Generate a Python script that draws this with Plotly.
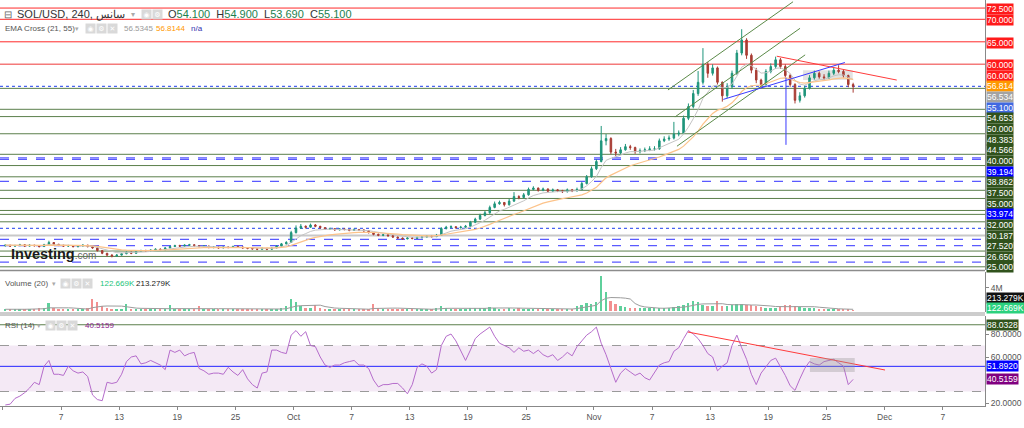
import pandas as pd
import plotly.graph_objects as go

FONT = "Liberation Sans, Arial, sans-serif"
START = pd.Timestamp("2021-09-01")

# ---------------- data (12h candles) ----------------
first_open = 19.7
close = [
    19.8, 19.6, 19.7, 19.9, 19.6, 19.8, 19.7, 19.5, 19.9, 20.4,
    20.0, 19.8, 19.6, 19.7, 19.5, 19.6, 19.8, 19.5, 19.2, 18.6,
    18.0, 17.6, 17.4, 17.6, 17.9, 18.2, 18.0, 18.4, 18.6, 18.5,
    18.7, 18.9, 18.8, 19.2, 19.5, 19.7, 19.6, 19.8, 19.9, 19.7,
    19.5, 19.6, 19.3, 19.4, 19.2, 19.4, 19.3, 19.5, 19.4, 19.2,
    19.1, 19.0, 18.9, 19.1, 18.9, 19.2, 19.6, 20.1, 20.4, 22.6,
    23.6, 24.0, 23.8, 24.3, 24.0, 23.7, 23.4, 23.5, 23.2, 23.4,
    23.3, 23.1, 23.3, 23.2, 23.0, 22.6, 22.2, 22.0, 22.1, 21.9,
    21.6, 21.4, 21.2, 21.4, 21.3, 21.5, 21.6, 21.8, 21.7, 22.0,
    23.5, 23.8, 23.9, 23.7, 23.8, 24.0, 24.9, 25.6, 26.4, 27.0,
    28.2, 29.0, 29.3, 28.8, 29.6, 30.6, 30.4, 31.0, 32.2, 32.5,
    32.0, 32.3, 31.8, 32.1, 31.9, 31.7, 32.1, 31.9, 32.2, 33.5,
    35.0, 36.8, 38.4, 43.0, 43.5, 40.5, 40.3, 41.0, 41.7, 41.5,
    40.6, 40.8, 41.0, 41.2, 41.2, 43.0, 43.4, 43.6, 44.5, 44.7,
    48.0, 50.6, 53.5, 56.0, 60.0, 58.0, 59.2, 56.0, 53.0, 55.0,
    58.0, 62.5, 65.4, 62.0, 58.7, 56.5, 55.5, 58.4, 59.5, 61.0,
    59.5, 57.5, 55.5, 52.0, 53.0, 54.7, 57.0, 58.0, 57.2, 57.0,
    58.0, 58.7, 58.4, 57.5, 55.5, 55.1]
high = [
    20.0, 19.9, 19.9, 20.1, 20.0, 20.0, 19.9, 19.8, 20.1, 20.8,
    20.5, 20.1, 19.9, 19.9, 19.8, 19.8, 20.0, 19.9, 19.6, 19.3,
    18.7, 18.1, 17.8, 17.8, 18.1, 18.4, 18.4, 18.6, 18.8, 18.8,
    18.9, 19.1, 19.1, 19.4, 19.7, 19.9, 19.9, 20.0, 20.1, 20.0,
    19.8, 19.8, 19.7, 19.6, 19.5, 19.6, 19.5, 19.7, 19.7, 19.5,
    19.3, 19.2, 19.1, 19.3, 19.2, 19.4, 19.8, 20.3, 20.7, 23.0,
    24.2, 24.5, 24.2, 24.6, 24.5, 24.1, 23.8, 23.7, 23.6, 23.6,
    23.5, 23.4, 23.5, 23.4, 23.3, 23.1, 22.7, 22.4, 22.3, 22.2,
    22.0, 21.7, 21.5, 21.6, 21.6, 21.7, 21.8, 22.0, 22.0, 22.3,
    23.8, 24.1, 24.2, 24.0, 24.1, 24.3, 25.2, 25.9, 26.8, 27.4,
    28.6, 29.5, 29.7, 29.4, 30.1, 31.6, 30.9, 31.4, 32.6, 32.9,
    32.6, 32.6, 32.4, 32.4, 32.3, 32.1, 32.4, 32.3, 32.6, 33.9,
    35.4, 37.3, 38.9, 46.3, 44.5, 43.8, 41.2, 41.6, 42.3, 42.1,
    41.7, 41.3, 41.5, 41.8, 41.8, 43.5, 44.0, 44.2, 47.2, 45.3,
    48.6, 51.3, 54.3, 58.5, 63.6, 60.5, 60.0, 59.5, 56.2, 55.8,
    58.6, 63.2, 67.8, 65.8, 62.4, 59.2, 56.8, 58.9, 60.2, 61.7,
    61.4, 60.0, 57.9, 55.8, 53.8, 55.3, 57.6, 58.6, 58.4, 57.8,
    58.6, 59.2, 59.8, 58.8, 57.7, 55.9]
low = [
    19.5, 19.4, 19.4, 19.6, 19.4, 19.5, 19.5, 19.3, 19.4, 19.8,
    19.8, 19.6, 19.4, 19.4, 19.3, 19.3, 19.5, 19.3, 19.0, 18.4,
    17.8, 17.3, 17.1, 17.2, 17.5, 17.8, 17.8, 17.9, 18.3, 18.3,
    18.4, 18.6, 18.6, 18.7, 19.1, 19.4, 19.4, 19.5, 19.7, 19.5,
    19.3, 19.3, 19.1, 19.1, 19.0, 19.1, 19.1, 19.2, 19.2, 19.0,
    18.9, 18.8, 18.7, 18.8, 18.7, 18.8, 19.1, 19.5, 20.0, 20.3,
    22.4, 23.4, 23.5, 23.7, 23.8, 23.5, 23.2, 23.2, 23.0, 23.1,
    23.1, 22.9, 23.0, 23.0, 22.8, 22.4, 22.0, 21.8, 21.8, 21.7,
    21.4, 21.2, 21.0, 21.1, 21.1, 21.2, 21.3, 21.5, 21.5, 21.6,
    21.9, 23.3, 23.6, 23.5, 23.5, 23.7, 23.9, 24.7, 25.4, 26.2,
    26.8, 28.0, 28.8, 28.4, 28.6, 29.4, 30.0, 30.2, 30.8, 32.0,
    31.7, 31.8, 31.5, 31.6, 31.6, 31.4, 31.5, 31.6, 31.7, 32.0,
    33.3, 34.8, 36.5, 38.2, 42.0, 40.0, 39.6, 40.0, 40.8, 41.0,
    40.1, 40.2, 40.5, 40.7, 40.8, 41.0, 42.7, 43.0, 43.3, 44.0,
    44.5, 47.6, 50.2, 53.0, 55.5, 57.0, 57.5, 55.5, 51.7, 52.5,
    54.6, 57.6, 62.0, 61.2, 58.0, 55.8, 54.7, 55.2, 58.0, 59.0,
    59.0, 57.0, 55.0, 51.3, 51.5, 52.6, 54.4, 56.6, 56.8, 56.5,
    56.8, 57.6, 58.0, 57.0, 54.9, 53.7]
volume_m = [
    0.3, 0.25, 0.3, 0.35, 0.3, 0.4, 0.3, 0.5, 0.6, 1.4,
    0.5, 0.3, 0.3, 0.25, 0.3, 0.3, 0.4, 0.5, 2.0, 1.5,
    0.8, 0.6, 0.4, 0.35, 0.3, 1.2, 0.4, 0.3, 0.3, 0.25,
    0.3, 0.3, 0.35, 0.3, 1.0, 0.4, 0.3, 0.3, 0.35, 0.3,
    0.9, 0.4, 0.3, 0.25, 0.3, 0.3, 0.25, 0.3, 0.3, 0.3,
    0.3, 0.4, 0.3, 0.3, 0.25, 0.3, 0.35, 0.5, 0.8, 2.1,
    1.6, 0.8, 0.6, 0.5, 1.0, 0.5, 0.4, 0.3, 0.3, 0.35,
    0.3, 0.3, 0.25, 0.3, 0.3, 0.4, 1.2, 0.6, 0.4, 0.3,
    0.3, 0.3, 0.25, 0.3, 0.3, 0.3, 0.4, 0.3, 0.3, 0.5,
    0.9, 0.5, 0.4, 0.3, 0.3, 0.4, 0.6, 0.5, 0.5, 0.6,
    0.7, 0.5, 0.4, 0.4, 0.6, 0.4, 0.5, 0.4, 0.4, 0.35,
    0.35, 0.35, 0.3, 0.35, 0.35, 0.35, 0.4, 0.35, 0.9, 1.1,
    1.4, 1.2, 1.6, 6.0, 3.3, 1.8, 1.3, 0.9, 0.7, 0.6,
    0.5, 0.5, 0.45, 0.5, 0.45, 0.45, 0.5, 0.6, 0.7, 0.9,
    1.1, 1.4, 1.8, 1.6, 1.1, 0.9, 0.8, 1.8, 0.9, 0.8,
    1.0, 1.3, 1.2, 1.0, 1.1, 0.9, 0.7, 0.6, 0.6, 0.55,
    0.7, 1.0, 1.1, 0.8, 0.7, 0.6, 0.5, 0.5, 0.4, 0.4,
    0.3, 0.3, 0.25, 0.3, 0.4, 0.12]
rsi = [
    18.3, 19, 24, 26, 29, 33, 38, 36, 52, 57,
    45, 45, 44, 52, 48, 46, 47, 43, 27, 23,
    22, 38, 37, 38, 45, 56, 60, 61, 54, 55,
    57, 55, 53, 49, 66, 64, 66, 61, 63, 64,
    50, 48, 45, 46, 46, 45, 51, 47, 44, 49,
    41, 36, 33, 46, 47, 66, 66, 64, 63, 79,
    83, 78, 82, 70, 69, 60, 53, 51, 53, 53,
    55, 56, 57, 53, 53, 50, 40, 34, 36, 36,
    37, 37, 33, 28, 36, 51, 54, 52, 46, 49,
    70, 78, 80, 74, 65, 57, 66, 76, 80, 83,
    86, 78, 72, 70, 68, 64, 68, 65, 66, 63,
    66, 62, 60, 62, 57, 60, 64, 61, 69, 74,
    79, 82, 86, 72, 62, 50, 38, 46, 50, 47,
    44, 46, 42, 40, 47, 53, 55, 56, 65, 68,
    76, 83, 80, 76, 70, 63, 60, 48, 52, 55,
    70, 79, 68, 58, 45, 36, 46, 52, 57, 59,
    52, 44, 35, 31, 41, 50, 56, 54, 53, 56,
    57, 58, 55, 52, 36, 40.5159]

tick_dates = ["2021-09-01", "2021-09-07", "2021-09-13", "2021-09-19", "2021-09-25",
              "2021-10-01", "2021-10-07", "2021-10-13", "2021-10-19", "2021-10-25",
              "2021-11-01", "2021-11-07", "2021-11-13", "2021-11-19", "2021-11-25",
              "2021-12-01", "2021-12-07"]
tick_text = ["Sep", "7", "13", "19", "25", "Oct", "7", "13", "19", "25",
             "Nov", "7", "13", "19", "25", "Dec", "7"]

# horizontal drawings (price levels)
red_levels = [72.5, 70.0, 65.0]
pink_levels = [60.0]
green_levels = [54.653, 50.0, 48.383, 44.566, 40.0, 37.5, 35.0, 32.0, 30.187,
                27.52, 26.65, 25.0, 18.5, 17.3, 15.0]
blue_dash_levels = [39.194, 38.862, 33.974, 21.1, 19.7, 16.05]
blue_dot_levels = [55.1, 23.55]
gray_levels = [21.95]

# right-hand price labels: value, background
price_labels = [(72.5, "#ff1a1a"), (70.0, "#ff1a1a"), (65.0, "#ff1a1a"),
                (60.0, "#ff1a1a"), (60.0, "#ff1a1a"), (56.814, "#ff9800"),
                (56.534, "#a3a3a3"), (55.1, "#4169e1"), (54.653, "#30521c"),
                (50.0, "#30521c"), (48.383, "#30521c"), (44.566, "#30521c"),
                (40.0, "#30521c"), (39.194, "#0000ff"), (38.862, "#30521c"),
                (37.5, "#30521c"), (35.0, "#30521c"), (33.974, "#0000ff"),
                (32.0, "#30521c"), (30.187, "#30521c"), (27.52, "#30521c"),
                (26.65, "#30521c"), (25.0, "#30521c")]

# trend-line drawings: (start date, price), (end date, price)
channel_lines = [(("2021-11-08 15:20", 54.3), ("2021-11-21 13:10", 73.9)),
                 (("2021-11-09 08:40", 48.3), ("2021-11-22 06:30", 68.0)),
                 (("2021-11-09 13:40", 41.8), ("2021-11-22 19:10", 62.1))]
red_trend = (("2021-11-19 20:50", 61.8), ("2021-12-02 06:00", 56.5))
blue_trend = (("2021-11-14 08:25", 52.2), ("2021-11-26 21:35", 60.4))
blue_vertical = ("2021-11-20 19:40", 42.1, 57.0)
price_box = ("2021-11-22 14:00", "2021-11-27 17:00", 56.5, 58.7)
rsi_red_trend = (("2021-11-10 17:00", 81.7), ("2021-12-01 01:00", 48.7))
rsi_box = ("2021-11-23 07:00", "2021-11-27 22:00", 47.0, 59.1)
rsi_green_level = 88.0328
rsi_blue_level = 51.892

# ---------------- geometry ----------------
W, H = 1024, 428
ML, MR, MT, MB = 0, 39, 0, 21
PW, PH = W - ML - MR, H - MT - MB          # plot area 985 x 407
P_TOP, P_BOT = 74.29, 14.29                  # price pane 0..270 px
PRICE_PX = (0, 270)
VOL_PX = (272, 312)
RSI_PX = (316, 406)
VOL_RANGE = [-0.174, 6.78]
RSI_RANGE = [17.4, 95.65]


def dom(px):
    return [1 - px[1] / PH, 1 - px[0] / PH]


def py_paper(py):
    return 1 - py / PH


n = len(close)
opens = [first_open] + close[:-1]
times = [START + pd.Timedelta(hours=12 * i + 6) for i in range(n)]
s_close = pd.Series(close)
ema_fast = s_close.ewm(span=7, adjust=False).mean()    # EMA 21 on 4h ~ 7 on 12h bars
ema_slow = s_close.ewm(span=18, adjust=False).mean()   # EMA 55 on 4h ~ 18 on 12h bars
vol_ma = pd.Series(volume_m).rolling(7, min_periods=1).mean()

UP, DN = "#1f957b", "#a83c33"
VUP, VDN = "#5fd09c", "#f29090"
vol_colors = [VUP if c >= o else VDN for o, c in zip(opens, close)]

fig = go.Figure()
fig.add_trace(go.Candlestick(
    x=times, open=opens, high=high, low=low, close=close,
    increasing=dict(line=dict(color=UP, width=1), fillcolor=UP),
    decreasing=dict(line=dict(color=DN, width=1), fillcolor=DN),
    whiskerwidth=0, hoverinfo="skip", xaxis="x", yaxis="y", showlegend=False))
fig.add_trace(go.Scatter(x=times, y=ema_fast, mode="lines", yaxis="y",
                         line=dict(color="#c4c4c4", width=1), hoverinfo="skip"))
fig.add_trace(go.Scatter(x=times, y=ema_slow, mode="lines", yaxis="y",
                         line=dict(color="#fcc38a", width=1.2), hoverinfo="skip"))
fig.add_trace(go.Bar(x=times, y=volume_m, yaxis="y2", marker_color=vol_colors,
                     marker_line_width=0, width=12 * 3600 * 1000 * 0.4, hoverinfo="skip"))
fig.add_trace(go.Scatter(x=times, y=vol_ma, mode="lines", yaxis="y2",
                         line=dict(color="#9c9c9c", width=1), hoverinfo="skip"))
fig.add_trace(go.Scatter(x=times, y=rsi, mode="lines", yaxis="y3",
                         line=dict(color="#b56ccb", width=1), hoverinfo="skip"))

shapes = []


def hline(v, color, yref="y", dash="solid", width=1, layer="below"):
    shapes.append(dict(type="line", xref="paper", x0=0, x1=1, yref=yref, y0=v, y1=v,
                       line=dict(color=color, width=width, dash=dash), layer=layer))


for v in red_levels:
    hline(v, "#ff2a2a")
for v in pink_levels:
    hline(v, "#f47a7a", width=1.5)
for v in green_levels:
    hline(v, "#5b7f4b")
for v in blue_dash_levels:
    hline(v, "#5a5aff", dash="dash", width=1.2)
for v in blue_dot_levels:
    hline(v, "#4a64f0", dash="dot", width=1.2)
for v in gray_levels:
    hline(v, "#c8c8c8", width=2)


def seg(a, b, color, yref="y", width=1):
    shapes.append(dict(type="line", xref="x", yref=yref, x0=a[0], y0=a[1], x1=b[0], y1=b[1],
                       line=dict(color=color, width=width), layer="above"))


for a, b in channel_lines:
    seg(a, b, "#5b8a48")
seg(*red_trend, "#ff3b3b")
seg(*blue_trend, "#3a3aff")
shapes.append(dict(type="line", xref="x", yref="y", x0=blue_vertical[0], x1=blue_vertical[0],
                   y0=blue_vertical[1], y1=blue_vertical[2],
                   line=dict(color="#3a3aff", width=1), layer="above"))
shapes.append(dict(type="rect", xref="x", yref="y", x0=price_box[0], x1=price_box[1],
                   y0=price_box[2], y1=price_box[3], fillcolor="rgba(160,160,160,0.3)",
                   line=dict(width=0), layer="below"))

# RSI pane decorations
shapes.append(dict(type="rect", xref="paper", yref="y3", x0=0, x1=1, y0=30, y1=70,
                   fillcolor="#f4e9f5", line=dict(width=0), layer="below"))
hline(70, "#9a9a9a", yref="y3", dash="dash")
hline(30, "#9a9a9a", yref="y3", dash="dash")
hline(rsi_blue_level, "#2424ff", yref="y3")
hline(rsi_green_level, "#5b7f4b", yref="y3")
seg(*rsi_red_trend, "#ff3b3b", yref="y3")
shapes.append(dict(type="rect", xref="x", yref="y3", x0=rsi_box[0], x1=rsi_box[1],
                   y0=rsi_box[2], y1=rsi_box[3], fillcolor="rgba(150,150,150,0.35)",
                   line=dict(width=0), layer="above"))

# pane separators
for py, w, c in [(270.5, 1.5, "#8c8c8c"), (313, 1, "#9a9a9a"), (315, 1, "#9a9a9a")]:
    shapes.append(dict(type="line", xref="paper", yref="paper", x0=0, x1=1,
                       y0=py_paper(py), y1=py_paper(py), line=dict(color=c, width=w)))

annots = []


def txt(px, py, s, size=11, color="#333", anchor="left"):
    annots.append(dict(xref="paper", yref="paper", x=px / PW, y=py_paper(py),
                       xanchor=anchor, yanchor="middle", text=s, showarrow=False,
                       font=dict(size=size, color=color, family=FONT)))


def icon(px, py, glyph):
    annots.append(dict(xref="paper", yref="paper", x=px / PW, y=py_paper(py),
                       xanchor="left", yanchor="middle", text=glyph, showarrow=False,
                       bgcolor="#d9d9d9", width=9, height=9, borderpad=0,
                       font=dict(size=7, color="white", family="DejaVu Sans")))


def label(py, s, bg, fg="white"):
    annots.append(dict(xref="paper", yref="paper", x=1, xshift=1, y=py_paper(py),
                       xanchor="left", yanchor="middle", text=s, showarrow=False,
                       bgcolor=bg, height=10, borderpad=0,
                       font=dict(size=8.5, color=fg, family=FONT)))


# header row 1
txt(2, 14.5, "⊟", 10, "#666")
txt(15, 14.5, "SOL/USD, 240, سانس", 11, "#333")
txt(129, 14.5, "▾", 8, "#aaa")
icon(141, 14.5, "◉")
icon(152, 14.5, "⚙")
G = "#1c7f4e"
txt(166, 14.5, f"O<span style='color:{G}'>54.100</span>  H<span style='color:{G}'>54.900</span>"
    f"  L<span style='color:{G}'>53.690</span>  C<span style='color:{G}'>55.100</span>", 11, "#333")
# header row 2
txt(3, 29, "EMA Cross (21, 55)", 8, "#555")
txt(73, 29, "▾", 7, "#aaa")
icon(85, 29, "◉")
icon(96, 29, "⚙")
icon(107, 29, "✕")
txt(122, 29, "56.5345", 8, "#9a9a9a")
txt(154, 29, "56.8144", 8, "#ff9800")
txt(189, 29, "n/a", 8, "#3434b0")
# volume header
txt(3, 283, "Volume (20)", 8, "#555")
txt(50, 283, "▾", 7, "#aaa")
icon(60, 283, "◉")
icon(71, 283, "⚙")
icon(82, 283, "✕")
txt(98, 283, "122.669K", 8, "#22c47a")
txt(134, 283, "213.279K", 8, "#222")
# rsi header
txt(3, 325, "RSI (14)", 8, "#555")
txt(35, 325, "▾", 7, "#aaa")
icon(45, 325, "◉")
icon(56, 325, "⚙")
icon(67, 325, "✕")
txt(83, 325, "40.5159", 8, "#8b1a8b")
# watermark
txt(9, 254, "<b>Investing</b><span style='font-size:10px;color:#666'>.com</span>", 14.5, "#1a1a1a")

# price labels, stacked downward as the chart does
scale = (PRICE_PX[1] - PRICE_PX[0]) / (P_TOP - P_BOT)
prev = -1e9
for v, bg in price_labels:
    py = max((P_TOP - v) * scale + 0.8, prev + 10.65)
    prev = py
    label(py, f"{v:.3f}", bg)

# volume labels
label(298, "213.279K", "#111111")
label(308, "122.669K", "#2bd17e")

# rsi labels
rsi_scale = (RSI_PX[1] - RSI_PX[0]) / (RSI_RANGE[1] - RSI_RANGE[0])
for v, bg in [(rsi_green_level, "#30521c"), (rsi_blue_level, "#0000ff"), (40.5159, "#800080")]:
    label(RSI_PX[0] + (RSI_RANGE[1] - v) * rsi_scale, f"{v:.4f}", bg)

axis_font = dict(size=8.5, color="#555", family=FONT)
x0 = START - pd.Timedelta(days=0.299)
x1 = START + pd.Timedelta(days=101.36)

fig.update_layout(
    width=W, height=H, margin=dict(l=ML, r=MR, t=MT, b=MB),
    paper_bgcolor="white", plot_bgcolor="white", showlegend=False, bargap=0,
    boxgap=0.55,
    xaxis=dict(type="date", range=[x0, x1], anchor="y3", domain=[0, 1],
               tickvals=tick_dates, ticktext=tick_text, tickfont=axis_font,
               ticks="outside", ticklen=3, tickcolor="#888", showgrid=False,
               zeroline=False, showline=True, linecolor="#888", linewidth=1,
               rangeslider=dict(visible=False)),
    yaxis=dict(domain=dom(PRICE_PX), range=[P_BOT, P_TOP], side="right", anchor="x",
               showticklabels=False, showgrid=False, zeroline=False,
               showline=True, linecolor="#888"),
    yaxis2=dict(domain=dom(VOL_PX), range=VOL_RANGE, side="right", anchor="x",
                tickvals=[4], ticktext=["4M"], tickfont=axis_font, ticks="outside",
                ticklen=3, tickcolor="#888", showgrid=False, zeroline=False,
                showline=True, linecolor="#888"),
    yaxis3=dict(domain=dom(RSI_PX), range=RSI_RANGE, side="right", anchor="x",
                tickvals=[20, 60, 80], ticktext=["20.0000", "60.0000", "80.0000"],
                tickfont=axis_font, ticks="outside", ticklen=3, tickcolor="#888",
                showgrid=False, zeroline=False, showline=True, linecolor="#888"),
    shapes=shapes, annotations=annots,
)

fig.write_html("out.html", config={"displayModeBar": False})
